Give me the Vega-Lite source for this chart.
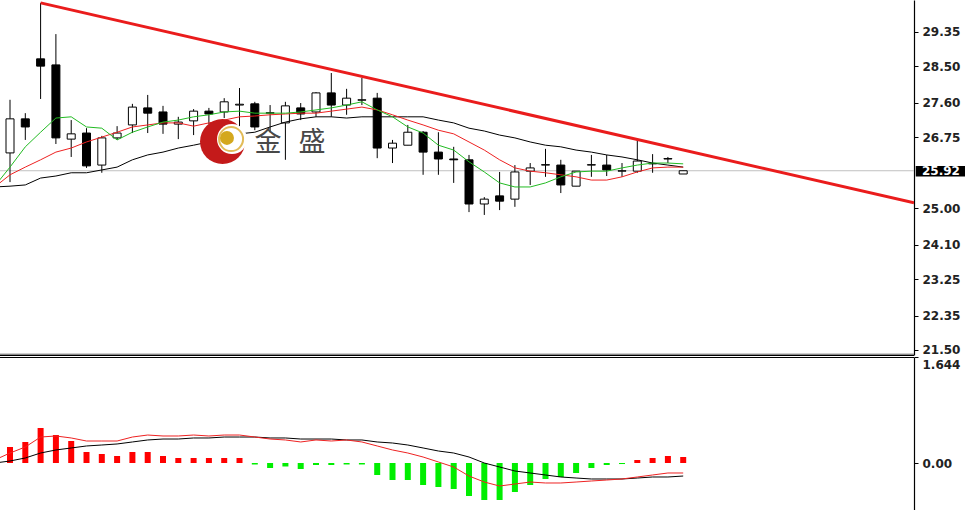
{
  "$schema": "https://vega.github.io/schema/vega-lite/v6.json",
  "width": 914,
  "height": 510,
  "autosize": {"type": "none"},
  "padding": {"left": 0, "top": 0, "right": 51, "bottom": 0},
  "background": "#ffffff",
  "config": {
    "view": {"stroke": null},
    "axis": {
      "grid": false,
      "domainColor": "#000000",
      "domainWidth": 1.2,
      "tickColor": "#000000",
      "tickSize": 4,
      "labelPadding": 4,
      "labelFont": "DejaVu Sans",
      "labelFontSize": 12,
      "labelFontWeight": "bold",
      "labelColor": "#222222",
      "labelOverlap": false,
      "labelBound": false,
      "labelFlush": false,
      "zindex": 1
    }
  },
  "datasets": {
    "candles": [
      {"i": 0, "o": 26.36, "h": 27.67, "l": 25.64, "c": 27.20},
      {"i": 1, "o": 27.20, "h": 27.34, "l": 26.68, "c": 27.00},
      {"i": 2, "o": 28.68, "h": 30.06, "l": 27.69, "c": 28.50},
      {"i": 3, "o": 28.53, "h": 29.29, "l": 26.58, "c": 26.73},
      {"i": 4, "o": 26.70, "h": 27.17, "l": 26.26, "c": 26.83},
      {"i": 5, "o": 26.85, "h": 26.97, "l": 25.99, "c": 26.04},
      {"i": 6, "o": 26.06, "h": 26.78, "l": 25.87, "c": 26.73},
      {"i": 7, "o": 26.73, "h": 27.02, "l": 26.68, "c": 26.85},
      {"i": 8, "o": 27.05, "h": 27.57, "l": 26.85, "c": 27.49},
      {"i": 9, "o": 27.47, "h": 27.79, "l": 26.85, "c": 27.34},
      {"i": 10, "o": 27.37, "h": 27.52, "l": 26.83, "c": 27.07},
      {"i": 11, "o": 27.07, "h": 27.25, "l": 26.70, "c": 27.12},
      {"i": 12, "o": 27.15, "h": 27.44, "l": 26.80, "c": 27.39},
      {"i": 13, "o": 27.39, "h": 27.47, "l": 27.07, "c": 27.32},
      {"i": 14, "o": 27.37, "h": 27.71, "l": 27.22, "c": 27.62},
      {"i": 15, "o": 27.54, "h": 27.96, "l": 26.85, "c": 27.56},
      {"i": 16, "o": 27.57, "h": 27.62, "l": 26.92, "c": 27.00},
      {"i": 17, "o": 27.34, "h": 27.54, "l": 26.87, "c": 27.35},
      {"i": 18, "o": 27.10, "h": 27.62, "l": 26.19, "c": 27.52},
      {"i": 19, "o": 27.47, "h": 27.59, "l": 27.17, "c": 27.32},
      {"i": 20, "o": 27.37, "h": 27.86, "l": 27.25, "c": 27.84},
      {"i": 21, "o": 27.84, "h": 28.33, "l": 27.25, "c": 27.54},
      {"i": 22, "o": 27.54, "h": 27.94, "l": 27.30, "c": 27.71},
      {"i": 23, "o": 27.66, "h": 28.21, "l": 27.54, "c": 27.67},
      {"i": 24, "o": 27.71, "h": 27.84, "l": 26.23, "c": 26.48},
      {"i": 25, "o": 26.48, "h": 26.68, "l": 26.11, "c": 26.60},
      {"i": 26, "o": 26.55, "h": 27.05, "l": 26.55, "c": 26.87},
      {"i": 27, "o": 26.87, "h": 26.90, "l": 25.82, "c": 26.38},
      {"i": 28, "o": 26.38, "h": 26.87, "l": 25.82, "c": 26.21},
      {"i": 29, "o": 26.21, "h": 26.51, "l": 25.62, "c": 26.19},
      {"i": 30, "o": 26.19, "h": 26.31, "l": 24.90, "c": 25.10},
      {"i": 31, "o": 25.10, "h": 25.27, "l": 24.83, "c": 25.22},
      {"i": 32, "o": 25.30, "h": 25.89, "l": 24.95, "c": 25.17},
      {"i": 33, "o": 25.22, "h": 26.06, "l": 25.03, "c": 25.89},
      {"i": 34, "o": 25.91, "h": 26.11, "l": 25.57, "c": 25.99},
      {"i": 35, "o": 26.06, "h": 26.46, "l": 25.77, "c": 26.07},
      {"i": 36, "o": 26.06, "h": 26.19, "l": 25.37, "c": 25.57},
      {"i": 37, "o": 25.54, "h": 25.91, "l": 25.54, "c": 25.91},
      {"i": 38, "o": 26.06, "h": 26.31, "l": 25.77, "c": 26.07},
      {"i": 39, "o": 26.06, "h": 26.31, "l": 25.79, "c": 25.94},
      {"i": 40, "o": 25.91, "h": 26.11, "l": 25.77, "c": 25.92},
      {"i": 41, "o": 25.91, "h": 26.68, "l": 25.87, "c": 26.16},
      {"i": 42, "o": 26.09, "h": 26.33, "l": 25.87, "c": 26.10},
      {"i": 43, "o": 26.21, "h": 26.26, "l": 26.11, "c": 26.22},
      {"i": 44, "o": 25.84, "h": 25.92, "l": 25.84, "c": 25.92}
    ],
    "ma": [
      {"i": -1, "fast": 25.54, "mid": 25.52, "slow": 25.52},
      {"i": 0, "fast": 26.01, "mid": 25.82, "slow": 25.54},
      {"i": 1, "fast": 26.51, "mid": 26.01, "slow": 25.57},
      {"i": 2, "fast": 26.87, "mid": 26.19, "slow": 25.74},
      {"i": 3, "fast": 27.22, "mid": 26.38, "slow": 25.79},
      {"i": 4, "fast": 27.25, "mid": 26.48, "slow": 25.87},
      {"i": 5, "fast": 27.00, "mid": 26.63, "slow": 25.87},
      {"i": 6, "fast": 26.97, "mid": 26.75, "slow": 25.94},
      {"i": 7, "fast": 26.68, "mid": 26.87, "slow": 26.01},
      {"i": 8, "fast": 26.87, "mid": 27.00, "slow": 26.19},
      {"i": 9, "fast": 27.00, "mid": 27.05, "slow": 26.31},
      {"i": 10, "fast": 27.12, "mid": 27.10, "slow": 26.38},
      {"i": 11, "fast": 27.17, "mid": 27.10, "slow": 26.48},
      {"i": 12, "fast": 27.25, "mid": 27.02, "slow": 26.55},
      {"i": 13, "fast": 27.30, "mid": 27.10, "slow": 26.63},
      {"i": 14, "fast": 27.37, "mid": 27.17, "slow": 26.75},
      {"i": 15, "fast": 27.39, "mid": 27.25, "slow": 26.83},
      {"i": 16, "fast": 27.34, "mid": 27.27, "slow": 26.87},
      {"i": 17, "fast": 27.34, "mid": 27.30, "slow": 27.00},
      {"i": 18, "fast": 27.34, "mid": 27.32, "slow": 27.12},
      {"i": 19, "fast": 27.37, "mid": 27.34, "slow": 27.20},
      {"i": 20, "fast": 27.42, "mid": 27.34, "slow": 27.25},
      {"i": 21, "fast": 27.47, "mid": 27.39, "slow": 27.25},
      {"i": 22, "fast": 27.54, "mid": 27.44, "slow": 27.22},
      {"i": 23, "fast": 27.62, "mid": 27.49, "slow": 27.25},
      {"i": 24, "fast": 27.42, "mid": 27.42, "slow": 27.25},
      {"i": 25, "fast": 27.25, "mid": 27.30, "slow": 27.25},
      {"i": 26, "fast": 27.00, "mid": 27.17, "slow": 27.25},
      {"i": 27, "fast": 26.85, "mid": 27.05, "slow": 27.25},
      {"i": 28, "fast": 26.55, "mid": 26.92, "slow": 27.17},
      {"i": 29, "fast": 26.43, "mid": 26.83, "slow": 27.10},
      {"i": 30, "fast": 26.14, "mid": 26.63, "slow": 26.97},
      {"i": 31, "fast": 25.89, "mid": 26.43, "slow": 26.90},
      {"i": 32, "fast": 25.62, "mid": 26.19, "slow": 26.80},
      {"i": 33, "fast": 25.52, "mid": 25.99, "slow": 26.73},
      {"i": 34, "fast": 25.52, "mid": 25.91, "slow": 26.63},
      {"i": 35, "fast": 25.62, "mid": 25.87, "slow": 26.55},
      {"i": 36, "fast": 25.77, "mid": 25.82, "slow": 26.51},
      {"i": 37, "fast": 25.89, "mid": 25.77, "slow": 26.43},
      {"i": 38, "fast": 25.91, "mid": 25.69, "slow": 26.38},
      {"i": 39, "fast": 25.91, "mid": 25.69, "slow": 26.31},
      {"i": 40, "fast": 25.99, "mid": 25.77, "slow": 26.26},
      {"i": 41, "fast": 26.06, "mid": 25.89, "slow": 26.19},
      {"i": 42, "fast": 26.11, "mid": 25.99, "slow": 26.11},
      {"i": 43, "fast": 26.11, "mid": 26.01, "slow": 26.06},
      {"i": 44, "fast": 26.09, "mid": 26.01, "slow": 26.01}
    ],
    "trend": [
      {"i": 2, "p": 30.06},
      {"i": 59.085, "p": 25.13}
    ],
    "macd": [
      {"i": -1, "hist": 0, "macd": 0.000, "signal": 0.047},
      {"i": 0, "hist": 0.248, "macd": 0.031, "signal": 0.155},
      {"i": 1, "hist": 0.326, "macd": 0.078, "signal": 0.248},
      {"i": 2, "hist": 0.543, "macd": 0.155, "signal": 0.403},
      {"i": 3, "hist": 0.434, "macd": 0.202, "signal": 0.419},
      {"i": 4, "hist": 0.341, "macd": 0.233, "signal": 0.388},
      {"i": 5, "hist": 0.171, "macd": 0.264, "signal": 0.341},
      {"i": 6, "hist": 0.140, "macd": 0.279, "signal": 0.341},
      {"i": 7, "hist": 0.109, "macd": 0.295, "signal": 0.341},
      {"i": 8, "hist": 0.171, "macd": 0.326, "signal": 0.403},
      {"i": 9, "hist": 0.171, "macd": 0.357, "signal": 0.434},
      {"i": 10, "hist": 0.109, "macd": 0.372, "signal": 0.419},
      {"i": 11, "hist": 0.078, "macd": 0.372, "signal": 0.419},
      {"i": 12, "hist": 0.078, "macd": 0.388, "signal": 0.434},
      {"i": 13, "hist": 0.078, "macd": 0.388, "signal": 0.419},
      {"i": 14, "hist": 0.078, "macd": 0.403, "signal": 0.434},
      {"i": 15, "hist": 0.078, "macd": 0.403, "signal": 0.434},
      {"i": 16, "hist": -0.023, "macd": 0.403, "signal": 0.403},
      {"i": 17, "hist": -0.078, "macd": 0.388, "signal": 0.372},
      {"i": 18, "hist": -0.054, "macd": 0.388, "signal": 0.357},
      {"i": 19, "hist": -0.093, "macd": 0.372, "signal": 0.326},
      {"i": 20, "hist": -0.031, "macd": 0.372, "signal": 0.357},
      {"i": 21, "hist": -0.031, "macd": 0.372, "signal": 0.341},
      {"i": 22, "hist": -0.023, "macd": 0.357, "signal": 0.357},
      {"i": 23, "hist": -0.023, "macd": 0.357, "signal": 0.326},
      {"i": 24, "hist": -0.186, "macd": 0.326, "signal": 0.264},
      {"i": 25, "hist": -0.264, "macd": 0.310, "signal": 0.202},
      {"i": 26, "hist": -0.264, "macd": 0.279, "signal": 0.155},
      {"i": 27, "hist": -0.341, "macd": 0.233, "signal": 0.093},
      {"i": 28, "hist": -0.372, "macd": 0.186, "signal": 0.016},
      {"i": 29, "hist": -0.403, "macd": 0.155, "signal": -0.062},
      {"i": 30, "hist": -0.512, "macd": 0.093, "signal": -0.202},
      {"i": 31, "hist": -0.574, "macd": 0.000, "signal": -0.295},
      {"i": 32, "hist": -0.574, "macd": -0.062, "signal": -0.357},
      {"i": 33, "hist": -0.450, "macd": -0.124, "signal": -0.326},
      {"i": 34, "hist": -0.341, "macd": -0.155, "signal": -0.295},
      {"i": 35, "hist": -0.248, "macd": -0.186, "signal": -0.310},
      {"i": 36, "hist": -0.217, "macd": -0.217, "signal": -0.310},
      {"i": 37, "hist": -0.155, "macd": -0.233, "signal": -0.295},
      {"i": 38, "hist": -0.078, "macd": -0.248, "signal": -0.279},
      {"i": 39, "hist": -0.031, "macd": -0.248, "signal": -0.264},
      {"i": 40, "hist": -0.016, "macd": -0.248, "signal": -0.248},
      {"i": 41, "hist": 0.047, "macd": -0.233, "signal": -0.217},
      {"i": 42, "hist": 0.078, "macd": -0.217, "signal": -0.186},
      {"i": 43, "hist": 0.109, "macd": -0.217, "signal": -0.155},
      {"i": 44, "hist": 0.093, "macd": -0.202, "signal": -0.155}
    ]
  },
  "layer": [
    {
      "data": {"values": [{"p": 25.92}]},
      "mark": {"type": "rule", "color": "#c0c0c0", "strokeWidth": 1},
      "encoding": {
        "y": {
          "field": "p", "type": "quantitative", "title": null,
          "scale": {"domain": [21.376, 30.131], "range": [355, 0], "nice": false, "zero": false},
          "axis": {
            "orient": "right",
            "values": [21.5, 22.35, 23.25, 24.1, 25.0, 26.75, 27.6, 28.5, 29.35],
            "format": ".2f"
          }
        }
      }
    },
    {
      "data": {"name": "candles"},
      "mark": {"type": "rule", "color": "#000000", "strokeWidth": 1},
      "encoding": {
        "x": {"field": "i", "type": "quantitative", "axis": null, "title": null,
              "scale": {"domain": [-0.654, 59.085], "nice": false, "zero": false, "padding": 0}},
        "y": {"field": "l", "type": "quantitative", "axis": null, "title": null,
              "scale": {"domain": [21.376, 30.131], "range": [355, 0], "nice": false, "zero": false}},
        "y2": {"field": "h"}
      }
    },
    {
      "data": {"name": "candles"},
      "mark": {"type": "bar", "size": 8, "stroke": "#000000", "strokeWidth": 1},
      "encoding": {
        "x": {"field": "i", "type": "quantitative", "axis": null, "title": null,
              "scale": {"domain": [-0.654, 59.085], "nice": false, "zero": false, "padding": 0}},
        "y": {"field": "o", "type": "quantitative", "axis": null, "title": null,
              "scale": {"domain": [21.376, 30.131], "range": [355, 0], "nice": false, "zero": false}},
        "y2": {"field": "c"},
        "fill": {"condition": {"test": "datum.c > datum.o", "value": "#ffffff"}, "value": "#000000"}
      }
    },
    {
      "data": {"name": "ma"},
      "mark": {"type": "line", "color": "#000000", "strokeWidth": 1, "clip": true},
      "encoding": {
        "x": {"field": "i", "type": "quantitative", "axis": null, "title": null,
              "scale": {"domain": [-0.654, 59.085], "nice": false, "zero": false, "padding": 0}},
        "y": {"field": "slow", "type": "quantitative", "axis": null, "title": null,
              "scale": {"domain": [21.376, 30.131], "range": [355, 0], "nice": false, "zero": false}}
      }
    },
    {
      "data": {"name": "ma"},
      "mark": {"type": "line", "color": "#ee2222", "strokeWidth": 1, "clip": true},
      "encoding": {
        "x": {"field": "i", "type": "quantitative", "axis": null, "title": null,
              "scale": {"domain": [-0.654, 59.085], "nice": false, "zero": false, "padding": 0}},
        "y": {"field": "mid", "type": "quantitative", "axis": null, "title": null,
              "scale": {"domain": [21.376, 30.131], "range": [355, 0], "nice": false, "zero": false}}
      }
    },
    {
      "data": {"name": "ma"},
      "mark": {"type": "line", "color": "#22bb22", "strokeWidth": 1, "clip": true},
      "encoding": {
        "x": {"field": "i", "type": "quantitative", "axis": null, "title": null,
              "scale": {"domain": [-0.654, 59.085], "nice": false, "zero": false, "padding": 0}},
        "y": {"field": "fast", "type": "quantitative", "axis": null, "title": null,
              "scale": {"domain": [21.376, 30.131], "range": [355, 0], "nice": false, "zero": false}}
      }
    },
    {
      "data": {"name": "trend"},
      "mark": {"type": "line", "color": "#ea1c1c", "strokeWidth": 3, "clip": true},
      "encoding": {
        "x": {"field": "i", "type": "quantitative", "axis": null, "title": null,
              "scale": {"domain": [-0.654, 59.085], "nice": false, "zero": false, "padding": 0}},
        "y": {"field": "p", "type": "quantitative", "axis": null, "title": null,
              "scale": {"domain": [21.376, 30.131], "range": [355, 0], "nice": false, "zero": false}}
      }
    },
    {
      "data": {"values": [{"lx": 13.89, "ly": 26.64}]},
      "mark": {"type": "point", "shape": "circle", "filled": true, "opacity": 1, "size": 2025, "color": "#c41a1a"},
      "encoding": {
        "x": {"field": "lx", "type": "quantitative", "axis": null, "title": null,
              "scale": {"domain": [-0.654, 59.085], "nice": false, "zero": false, "padding": 0}},
        "y": {"field": "ly", "type": "quantitative", "axis": null, "title": null,
              "scale": {"domain": [21.376, 30.131], "range": [355, 0], "nice": false, "zero": false}}
      }
    },
    {
      "data": {"values": [{"lx": 14.51, "ly": 26.70}]},
      "mark": {"type": "point", "shape": "circle", "filled": true, "opacity": 1, "size": 900, "color": "#ffffff"},
      "encoding": {
        "x": {"field": "lx", "type": "quantitative", "axis": null, "title": null,
              "scale": {"domain": [-0.654, 59.085], "nice": false, "zero": false, "padding": 0}},
        "y": {"field": "ly", "type": "quantitative", "axis": null, "title": null,
              "scale": {"domain": [21.376, 30.131], "range": [355, 0], "nice": false, "zero": false}}
      }
    },
    {
      "data": {"values": [{"lx": 14.45, "ly": 26.70}]},
      "mark": {"type": "point", "shape": "circle", "filled": false, "opacity": 0.75, "size": 576, "stroke": "#d9a520", "strokeWidth": 2},
      "encoding": {
        "x": {"field": "lx", "type": "quantitative", "axis": null, "title": null,
              "scale": {"domain": [-0.654, 59.085], "nice": false, "zero": false, "padding": 0}},
        "y": {"field": "ly", "type": "quantitative", "axis": null, "title": null,
              "scale": {"domain": [21.376, 30.131], "range": [355, 0], "nice": false, "zero": false}}
      }
    },
    {
      "data": {"values": [{"lx": 14.18, "ly": 26.73}]},
      "mark": {"type": "point", "shape": "circle", "filled": true, "opacity": 1, "size": 196, "color": "#d4a81e"},
      "encoding": {
        "x": {"field": "lx", "type": "quantitative", "axis": null, "title": null,
              "scale": {"domain": [-0.654, 59.085], "nice": false, "zero": false, "padding": 0}},
        "y": {"field": "ly", "type": "quantitative", "axis": null, "title": null,
              "scale": {"domain": [21.376, 30.131], "range": [355, 0], "nice": false, "zero": false}}
      }
    },
    {
      "data": {"values": [{"t": "金", "lx": 16.86, "ly": 26.60}, {"t": "盛", "lx": 19.74, "ly": 26.60}]},
      "mark": {"type": "text", "font": "Noto Sans CJK SC", "fontSize": 27, "color": "#484848", "baseline": "middle", "align": "center"},
      "encoding": {
        "x": {"field": "lx", "type": "quantitative", "axis": null, "title": null,
              "scale": {"domain": [-0.654, 59.085], "nice": false, "zero": false, "padding": 0}},
        "y": {"field": "ly", "type": "quantitative", "axis": null, "title": null,
              "scale": {"domain": [21.376, 30.131], "range": [355, 0], "nice": false, "zero": false}},
        "text": {"field": "t"}
      }
    },
    {
      "data": {"values": [{"p": 21.40, "k": "a"}, {"p": 21.365, "k": "b"}]},
      "mark": {"type": "rule", "strokeWidth": 1.2},
      "encoding": {
        "y": {"field": "p", "type": "quantitative", "axis": null, "title": null,
              "scale": {"domain": [21.376, 30.131], "range": [355, 0], "nice": false, "zero": false}},
        "color": {"condition": {"test": "datum.k == 'a'", "value": "#a0a0a0"}, "value": "#000000"}
      }
    },
    {
      "data": {"values": [{"x1": 59.2, "x2": 63.5, "y1": 26.04, "y2": 25.78}]},
      "mark": {"type": "rect", "color": "#000000", "clip": false},
      "encoding": {
        "x": {"field": "x1", "type": "quantitative", "axis": null, "title": null,
              "scale": {"domain": [-0.654, 59.085], "nice": false, "zero": false, "padding": 0}},
        "x2": {"field": "x2"},
        "y": {"field": "y1", "type": "quantitative", "axis": null, "title": null,
              "scale": {"domain": [21.376, 30.131], "range": [355, 0], "nice": false, "zero": false}},
        "y2": {"field": "y2"}
      }
    },
    {
      "data": {"values": [{"lx": 59.085, "p": 25.92}]},
      "mark": {"type": "text", "color": "#ffffff", "font": "DejaVu Sans", "fontSize": 12, "fontWeight": "bold", "align": "left", "baseline": "middle", "dx": 8, "clip": false},
      "encoding": {
        "x": {"field": "lx", "type": "quantitative", "axis": null, "title": null,
              "scale": {"domain": [-0.654, 59.085], "nice": false, "zero": false, "padding": 0}},
        "y": {"field": "p", "type": "quantitative", "axis": null, "title": null,
              "scale": {"domain": [21.376, 30.131], "range": [355, 0], "nice": false, "zero": false}},
        "text": {"field": "p", "type": "quantitative", "format": ".2f"}
      }
    },
    {
      "data": {"name": "macd"},
      "mark": {"type": "bar", "size": 6},
      "encoding": {
        "x": {"field": "i", "type": "quantitative", "axis": null, "title": null,
              "scale": {"domain": [-0.654, 59.085], "nice": false, "zero": false, "padding": 0}},
        "y": {
          "field": "hist", "type": "quantitative", "title": null,
          "scale": {"domain": [-0.884, 1.644], "range": [520, 357], "nice": false, "zero": false},
          "axis": {"orient": "right", "values": [0], "format": ".2f"}
        },
        "y2": {"datum": 0},
        "color": {"condition": {"test": "datum.hist >= 0", "value": "#ff0000"}, "value": "#00ee00"}
      }
    },
    {
      "data": {"name": "macd"},
      "mark": {"type": "line", "color": "#000000", "strokeWidth": 1, "clip": true},
      "encoding": {
        "x": {"field": "i", "type": "quantitative", "axis": null, "title": null,
              "scale": {"domain": [-0.654, 59.085], "nice": false, "zero": false, "padding": 0}},
        "y": {"field": "macd", "type": "quantitative", "title": null,
              "scale": {"domain": [-0.884, 1.644], "range": [520, 357], "nice": false, "zero": false},
              "axis": {"orient": "right", "values": [1.644], "format": ".3f", "labelBaseline": "top", "labelOffset": 2, "domain": false}}
      }
    },
    {
      "data": {"name": "macd"},
      "mark": {"type": "line", "color": "#ee2222", "strokeWidth": 1, "clip": true},
      "encoding": {
        "x": {"field": "i", "type": "quantitative", "axis": null, "title": null,
              "scale": {"domain": [-0.654, 59.085], "nice": false, "zero": false, "padding": 0}},
        "y": {"field": "signal", "type": "quantitative", "axis": null, "title": null,
              "scale": {"domain": [-0.884, 1.644], "range": [520, 357], "nice": false, "zero": false}}
      }
    },
    {
      "data": {"values": [{"p": 1.636}]},
      "mark": {"type": "rule", "color": "#000000", "strokeWidth": 1.2},
      "encoding": {
        "y": {"field": "p", "type": "quantitative", "axis": null, "title": null,
              "scale": {"domain": [-0.884, 1.644], "range": [520, 357], "nice": false, "zero": false}}
      }
    }
  ],
  "resolve": {"scale": {"y": "independent"}, "axis": {"y": "independent"}}
}
